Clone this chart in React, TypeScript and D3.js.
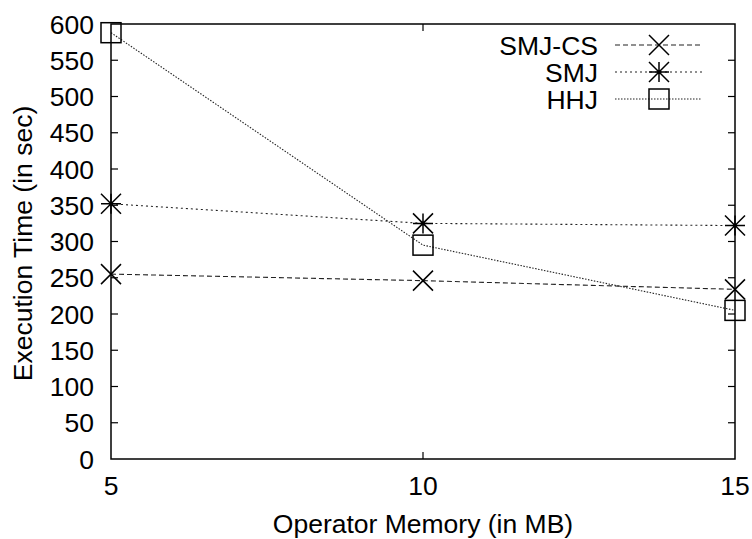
import React from "react";
import * as d3 from "d3";

const memory = [5, 10, 15];
const smjCs = [255, 246, 234];
const smj = [352, 325, 322];
const hhj = [588, 295, 205];

const yTicks = [0, 50, 100, 150, 200, 250, 300, 350, 400, 450, 500, 550, 600];
const xTicks = [5, 10, 15];

const seriesNames = ["SMJ-CS", "SMJ", "HHJ"];

const W = 752, H = 539;
const margin = { top: 24, right: 17, bottom: 80, left: 111 };
const FONT = "'Liberation Sans', Arial, sans-serif";
const FS = 26.5;

function Marker({ kind, x, y }: { kind: string; x: number; y: number }) {
  const r = 10;
  if (kind === "x") {
    return (
      <path d={`M${x - r},${y - r}L${x + r},${y + r}M${x - r},${y + r}L${x + r},${y - r}`} stroke="#000" strokeWidth={1.5} fill="none" />
    );
  }
  if (kind === "star") {
    return (
      <path d={`M${x - r},${y - r}L${x + r},${y + r}M${x - r},${y + r}L${x + r},${y - r}M${x},${y - r}L${x},${y + r}M${x - r},${y}L${x + r},${y}`} stroke="#000" strokeWidth={1.5} fill="none" />
    );
  }
  return <rect x={x - r} y={y - r} width={2 * r} height={2 * r} stroke="#000" strokeWidth={1.5} fill="none" />;
}

export default function App() {
  const x = d3.scaleLinear().domain([5, 15]).range([margin.left, W - margin.right]);
  const y = d3.scaleLinear().domain([0, 600]).range([H - margin.bottom, margin.top]);

  const line = d3.line<number>().x((_, i) => x(memory[i])).y((d) => y(d));

  const series = [
    { name: seriesNames[0], values: smjCs, dash: "5,3", marker: "x" },
    { name: seriesNames[1], values: smj, dash: "2,3", marker: "star" },
    { name: seriesNames[2], values: hhj, dash: "1.5,1.5", marker: "square" },
  ];

  const x0 = x.range()[0], x1 = x.range()[1];
  const y0 = y.range()[0], y1 = y.range()[1];
  const tick = 7;

  return (
    <svg width={W} height={H} style={{ position: "absolute", left: 0, top: 0, background: "#fff" }} fontFamily={FONT}>
      {/* y ticks, mirrored on the right */}
      {yTicks.map((t) => (
        <g key={"y" + t}>
          {t !== 0 && t !== 600 && (
            <>
              <line x1={x0} x2={x0 + tick} y1={y(t)} y2={y(t)} stroke="#000" strokeWidth={1.2} />
              <line x1={x1} x2={x1 - tick} y1={y(t)} y2={y(t)} stroke="#000" strokeWidth={1.2} />
            </>
          )}
          <text x={x0 - 17} y={y(t)} dy="0.36em" textAnchor="end" fontSize={FS}>
            {t}
          </text>
        </g>
      ))}
      {xTicks.map((t) => (
        <g key={"x" + t}>
          {t !== 5 && t !== 15 && (
            <>
              <line x1={x(t)} x2={x(t)} y1={y0} y2={y0 - tick} stroke="#000" strokeWidth={1.2} />
              <line x1={x(t)} x2={x(t)} y1={y1} y2={y1 + tick} stroke="#000" strokeWidth={1.2} />
            </>
          )}
          <text x={x(t)} y={y0 + 36} textAnchor="middle" fontSize={FS}>
            {t}
          </text>
        </g>
      ))}

      {series.map((s) => (
        <g key={s.name}>
          <path d={line(s.values) || ""} fill="none" stroke="#222" strokeWidth={1.1} strokeDasharray={s.dash} />
          {s.values.map((v, i) => (
            <Marker key={i} kind={s.marker} x={x(memory[i])} y={y(v)} />
          ))}
        </g>
      ))}

      <rect x={x0} y={y1} width={x1 - x0} height={y0 - y1} fill="none" stroke="#000" strokeWidth={1.5} />

      {/* legend */}
      {series.map((s, i) => {
        const ly = 45 + i * 27;
        return (
          <g key={"lg" + s.name}>
            <text x={598} y={ly} dy="0.36em" textAnchor="end" fontSize={FS}>
              {s.name}
            </text>
            <line x1={615} x2={702} y1={ly} y2={ly} stroke="#222" strokeWidth={1.1} strokeDasharray={s.dash} />
            <Marker kind={s.marker} x={659} y={ly} />
          </g>
        );
      })}

      <text x={(x0 + x1) / 2} y={533} textAnchor="middle" fontSize={FS}>
        Operator Memory (in MB)
      </text>
      <text transform={`translate(32,${(y0 + y1) / 2 + 2}) rotate(-90)`} textAnchor="middle" fontSize={FS}>
        Execution Time (in sec)
      </text>
    </svg>
  );
}
